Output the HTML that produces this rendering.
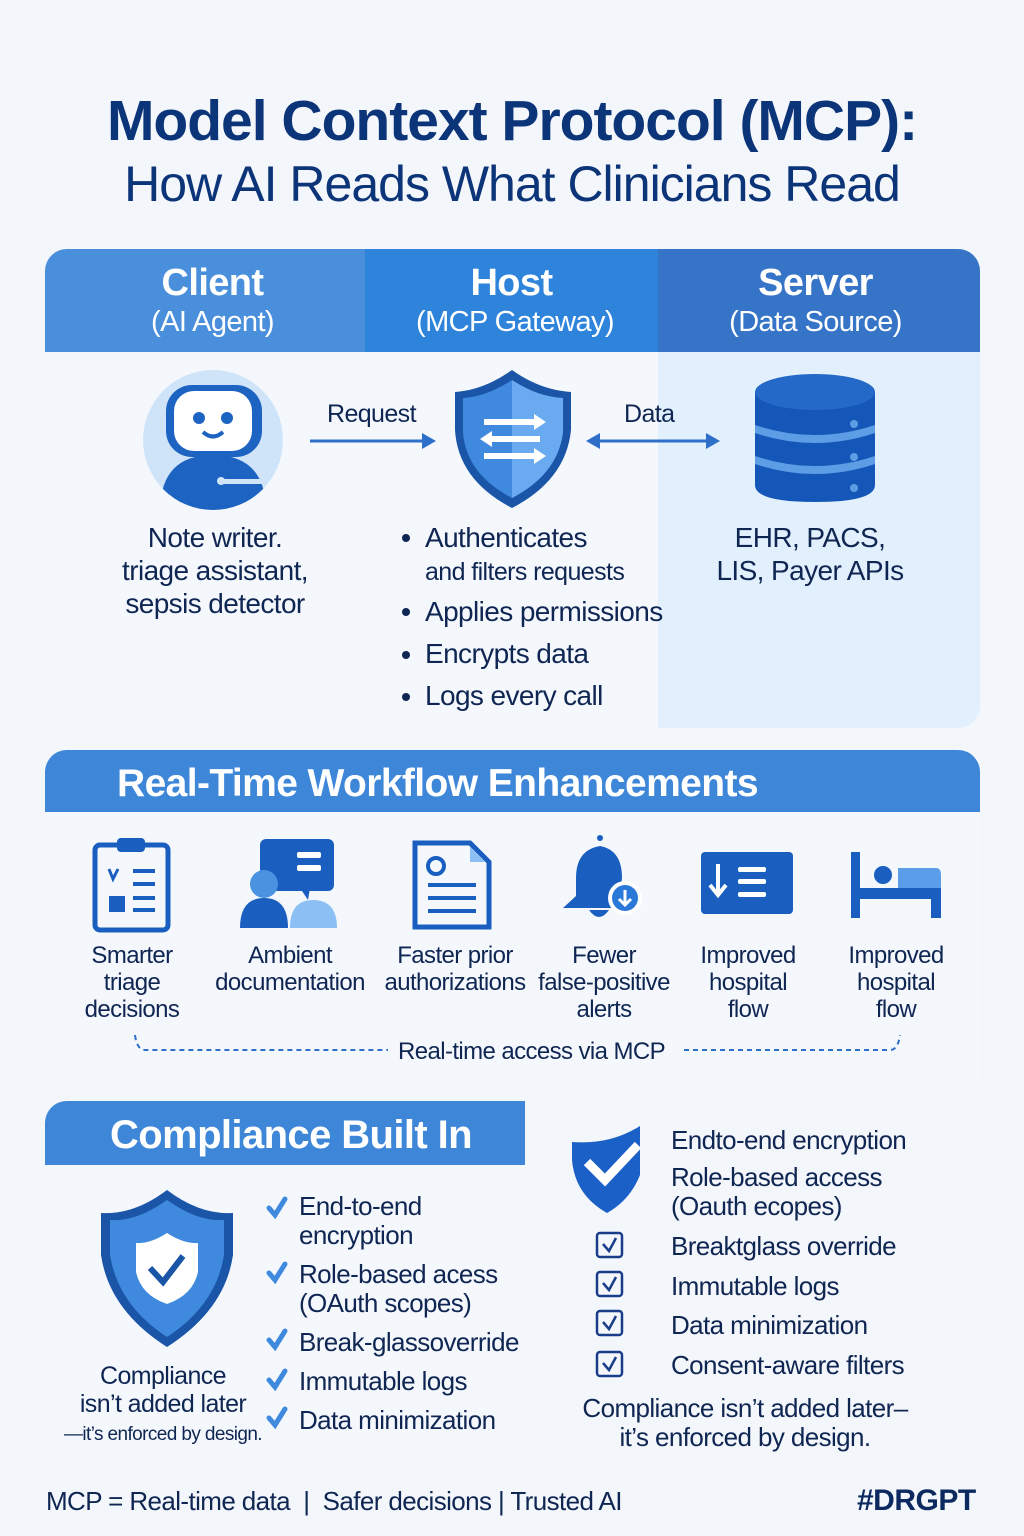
<!DOCTYPE html>
<html><head><meta charset="utf-8">
<style>
*{margin:0;padding:0;box-sizing:border-box}
body{width:1024px;height:1536px;background:#f3f6fa;font-family:"Liberation Sans",sans-serif;color:#0f2552;position:relative;overflow:hidden}
.a{position:absolute}
.c{text-align:center}
.t{letter-spacing:-0.6px}
.w{color:#fff}
</style></head><body>
<div class="a c" style="left:0;top:88px;width:1024px;font-size:57px;font-weight:bold;color:#0c3479;letter-spacing:-1px">Model Context Protocol (MCP):</div>
<div class="a c" style="left:0;top:155px;width:1024px;font-size:50px;color:#0c3479;letter-spacing:-1px">How AI Reads What Clinicians Read</div>

<div class="a" style="left:45px;top:249px;width:935px;height:479px;border-radius:22px;overflow:hidden;background:#f4f8fd">
  <div class="a" style="left:0;top:0;width:320px;height:103px;background:#4a8fdb"></div>
  <div class="a" style="left:320px;top:0;width:293px;height:103px;background:#2e83da"></div>
  <div class="a" style="left:613px;top:0;width:322px;height:103px;background:#3574c6"></div>
  <div class="a" style="left:613px;top:103px;width:322px;height:376px;background:#e2f0fd"></div>
</div>
<div class="a c w t" style="left:45px;top:262px;width:335px;font-size:38px;font-weight:bold">Client</div>
<div class="a c w t" style="left:45px;top:306px;width:335px;font-size:29px">(AI Agent)</div>
<div class="a c w t" style="left:365px;top:262px;width:293px;font-size:38px;font-weight:bold">Host</div>
<div class="a c w t" style="left:365px;top:306px;width:300px;font-size:29px">(MCP Gateway)</div>
<div class="a c w t" style="left:658px;top:262px;width:315px;font-size:38px;font-weight:bold">Server</div>
<div class="a c w t" style="left:658px;top:306px;width:315px;font-size:29px">(Data Source)</div>

<svg class="a" style="left:0;top:0" width="1024" height="1536">
 <circle cx="213" cy="440" r="70" fill="#cfe4f8"/>
 <clipPath id="cc"><circle cx="213" cy="440" r="70"/></clipPath>
 <g clip-path="url(#cc)">
  <path d="M160 512 Q160 455 213 455 Q266 455 266 512Z" fill="#1d63c2"/>
  <rect x="166" y="385" width="96" height="72" rx="26" fill="#1d63c2"/>
  <rect x="174" y="391" width="78" height="60" rx="20" fill="#fff"/>
  <circle cx="199" cy="418" r="6" fill="#1d63c2"/><circle cx="227" cy="418" r="6" fill="#1d63c2"/>
  <path d="M203 432 Q213 441 223 432" stroke="#1d63c2" stroke-width="4" fill="none"/>
  <rect x="220" y="479" width="42" height="5" fill="#cfe4f8"/><circle cx="221" cy="481" r="4" fill="#cfe4f8"/>
 </g>
 <line x1="310" y1="441" x2="428" y2="441" stroke="#2e6fca" stroke-width="3"/>
 <path d="M422 433 L436 441 L422 449Z" fill="#2e6fca"/>
 <line x1="596" y1="441" x2="712" y2="441" stroke="#2e6fca" stroke-width="3"/>
 <path d="M600 433 L586 441 L600 449Z" fill="#2e6fca"/>
 <path d="M706 433 L720 441 L706 449Z" fill="#2e6fca"/>
 <path d="M512 370 Q540 390 571 392 L571 430 Q566 480 512 508 Q458 480 455 430 L455 392 Q484 390 512 370Z" fill="#1a55a8"/>
 <path d="M512 380 Q538 397 563 398 L563 432 Q558 474 512 498 Q466 474 463 432 L463 398 Q486 397 512 380Z" fill="#3f8ade"/>
 <path d="M512 380 Q538 397 563 398 L563 432 Q558 474 512 498Z" fill="#6aaaf0"/>
 <g stroke="#fff" stroke-width="6" fill="none"><line x1="484" y1="422" x2="536" y2="422"/><line x1="490" y1="439" x2="540" y2="439"/><line x1="484" y1="456" x2="536" y2="456"/></g>
 <path d="M534 414 L546 422 L534 430Z M492 431 L480 439 L492 447Z M534 448 L546 456 L534 464Z" fill="#fff"/>
 <path d="M755 392 L755 485 Q755 502 815 502 Q875 502 875 485 L875 392Z" fill="#1557b8"/>
 <ellipse cx="815" cy="392" rx="60" ry="18" fill="#2468c8"/>
 <path d="M755 425 Q815 445 875 425 L875 433 Q815 453 755 433Z" fill="#5d9de6"/>
 <path d="M755 456 Q815 476 875 456 L875 464 Q815 484 755 464Z" fill="#5d9de6"/>
 <circle cx="854" cy="424" r="4" fill="#5d9de6"/><circle cx="854" cy="457" r="4" fill="#5d9de6"/><circle cx="854" cy="488" r="4" fill="#5d9de6"/>
 <g fill="#0f2552"><circle cx="406" cy="538" r="4"/><circle cx="406" cy="612" r="4"/><circle cx="406" cy="655" r="4"/><circle cx="406" cy="697" r="4"/></g>
</svg>
<div class="a t" style="left:327px;top:400px;font-size:25px">Request</div>
<div class="a t" style="left:624px;top:400px;font-size:25px">Data</div>
<div class="a c t" style="left:80px;top:521px;width:270px;font-size:28px;line-height:33px">Note writer.<br>triage assistant,<br>sepsis detector</div>
<div class="a t" style="left:425px;top:521px;font-size:28px;line-height:33px">Authenticates<br><span style="font-size:25px">and filters requests</span></div>
<div class="a t" style="left:425px;top:596px;font-size:28px">Applies permissions</div>
<div class="a t" style="left:425px;top:638px;font-size:28px">Encrypts data</div>
<div class="a t" style="left:425px;top:680px;font-size:28px">Logs every call</div>
<div class="a c t" style="left:680px;top:521px;width:260px;font-size:28px;line-height:33px">EHR, PACS,<br>LIS, Payer APIs</div>

<div class="a" style="left:45px;top:750px;width:935px;height:332px;border-radius:22px 22px 0 0;background:#f4f8fd"></div>
<div class="a" style="left:45px;top:750px;width:935px;height:62px;border-radius:22px 22px 0 0;background:#3d86d8"></div>
<div class="a w" style="left:117px;top:762px;font-size:39px;font-weight:bold;letter-spacing:-0.6px">Real-Time Workflow Enhancements</div>
<svg class="a" style="left:0;top:0" width="1024" height="1536">
 <g fill="#1a5fc0">
  <rect x="95" y="845" width="73" height="85" rx="5" fill="none" stroke="#1a5fc0" stroke-width="5"/>
  <rect x="117" y="838" width="28" height="14" rx="4"/>
  <path d="M109 869 L113 879 L118 869" stroke="#1a5fc0" stroke-width="3" fill="none"/>
  <rect x="133" y="869" width="22" height="4"/><rect x="133" y="882" width="22" height="4"/>
  <rect x="109" y="896" width="16" height="16"/><rect x="133" y="896" width="22" height="4"/><rect x="133" y="908" width="22" height="4"/>
  <rect x="260" y="839" width="74" height="52" rx="6"/><path d="M300 888 L308 900 L310 888Z"/>
  <rect x="297" y="852" width="24" height="6" fill="#fff" rx="2"/><rect x="297" y="865" width="24" height="6" fill="#fff" rx="2"/>
  <circle cx="264" cy="884" r="14" fill="#4b92e0"/>
  <path d="M240 928 Q240 898 264 898 Q288 898 288 928Z"/>
  <path d="M290 928 Q290 900 313 900 Q337 900 337 928Z" fill="#8cc0f5"/>
  <path d="M415 843 L470 843 L489 862 L489 927 L415 927Z" fill="none" stroke="#1a5fc0" stroke-width="5"/>
  <path d="M470 847 L470 862 L485 862Z" fill="#8cc0f5"/>
  <circle cx="436" cy="866" r="8" fill="none" stroke="#1a5fc0" stroke-width="4"/>
  <rect x="428" y="883" width="48" height="4"/><rect x="428" y="896" width="48" height="4"/><rect x="428" y="909" width="48" height="4"/>
  <path d="M600 838 L600 846 Q576 850 576 878 L576 896 L563 908 L630 908 L620 896 L622 878 Q622 850 600 846Z"/>
  <circle cx="600" cy="838" r="3"/>
  <path d="M589 910 Q599 924 609 910Z"/>
  <circle cx="625" cy="898" r="17" fill="#fff"/><circle cx="625" cy="898" r="13" fill="#2a78d8"/>
  <path d="M625 890 L625 904 M619 899 L625 905 L631 899" stroke="#fff" stroke-width="3" fill="none"/>
  <rect x="701" y="852" width="92" height="62" rx="4"/>
  <path d="M718 864 L718 894 M710 885 L718 895 L726 885" stroke="#fff" stroke-width="4" fill="none"/>
  <rect x="738" y="867" width="28" height="5" fill="#fff" rx="2"/><rect x="738" y="879" width="28" height="5" fill="#fff" rx="2"/><rect x="738" y="892" width="28" height="5" fill="#fff" rx="2"/>
  <rect x="851" y="852" width="9" height="66"/><rect x="851" y="888" width="90" height="11"/><rect x="931" y="888" width="10" height="30"/>
  <circle cx="883" cy="875" r="9"/><path d="M898 868 L936 868 Q941 868 941 875 L941 888 L898 888Z" fill="#5b9de8"/>
 </g>
 <path d="M135 1035 Q137 1050 145 1050 L388 1050" stroke="#2e6fca" stroke-width="2" stroke-dasharray="5 4" fill="none"/>
 <path d="M684 1050 L890 1050 Q898 1050 900 1035" stroke="#2e6fca" stroke-width="2" stroke-dasharray="5 4" fill="none"/>
</svg>
<div class="a c t" style="left:62px;top:942px;width:140px;font-size:24px;line-height:27px">Smarter<br>triage<br>decisions</div>
<div class="a c t" style="left:205px;top:942px;width:170px;font-size:24px;line-height:27px">Ambient<br>documentation</div>
<div class="a c t" style="left:377px;top:942px;width:156px;font-size:24px;line-height:27px">Faster prior<br>authorizations</div>
<div class="a c t" style="left:532px;top:942px;width:144px;font-size:24px;line-height:27px">Fewer<br>false-positive<br>alerts</div>
<div class="a c t" style="left:680px;top:942px;width:136px;font-size:24px;line-height:27px">Improved<br>hospital<br>flow</div>
<div class="a c t" style="left:828px;top:942px;width:136px;font-size:24px;line-height:27px">Improved<br>hospital<br>flow</div>
<div class="a t" style="left:398px;top:1038px;font-size:24px">Real-time access via MCP</div>

<div class="a" style="left:45px;top:1101px;width:480px;height:364px;border-radius:22px 0 0 0;background:#f4f8fd"></div>
<div class="a" style="left:45px;top:1101px;width:480px;height:64px;border-radius:22px 0 0 0;background:#3d86d8"></div>
<div class="a w" style="left:110px;top:1113px;font-size:40px;font-weight:bold;letter-spacing:-0.6px">Compliance Built In</div>
<svg class="a" style="left:0;top:0" width="1024" height="1536">
 <path d="M167 1190 Q200 1215 233 1213 L233 1255 Q225 1310 167 1347 Q109 1310 101 1255 L101 1213 Q134 1215 167 1190Z" fill="#1a55a8"/>
 <path d="M167 1200 Q198 1222 224 1220 L224 1255 Q216 1305 167 1337 Q118 1305 110 1255 L110 1220 Q136 1222 167 1200Z" fill="#3f8ade"/>
 <path d="M167 1233 Q184 1244 198 1243 L198 1272 Q193 1295 167 1304 Q141 1295 136 1272 L136 1243 Q150 1244 167 1233Z" fill="#fff"/>
 <path d="M150 1268 L163 1282 L183 1256" stroke="#1a55a8" stroke-width="6" fill="none"/>
 <g stroke="#3f8ade" stroke-width="5" fill="none" stroke-linecap="round">
  <path d="M269 1208 L275 1215 L285 1199"/>
  <path d="M269 1273 L275 1280 L285 1264"/>
  <path d="M269 1340 L275 1347 L285 1331"/>
  <path d="M269 1380 L275 1387 L285 1371"/>
  <path d="M269 1418 L275 1425 L285 1409"/>
 </g>
 <path d="M640 1126 L640 1175 Q630 1200 607 1213 Q575 1195 572 1160 L572 1142 Q610 1145 640 1126Z" fill="#1a60c6"/>
 <path d="M587 1162 L605 1180 L638 1145" stroke="#fff" stroke-width="9" fill="none"/>
 <g stroke="#1a3d8a" stroke-width="2.5" fill="none">
  <rect x="597" y="1233" width="25" height="24" rx="3"/><path d="M603 1244 L609 1251 L616 1238"/>
  <rect x="597" y="1272" width="25" height="24" rx="3"/><path d="M603 1283 L609 1290 L616 1277"/>
  <rect x="597" y="1311" width="25" height="24" rx="3"/><path d="M603 1322 L609 1329 L616 1316"/>
  <rect x="597" y="1352" width="25" height="24" rx="3"/><path d="M603 1363 L609 1370 L616 1357"/>
 </g>
</svg>
<div class="a c t" style="left:52px;top:1362px;width:222px;font-size:25px;line-height:28px">Compliance<br>isn’t added later<br><span style="font-size:19px">—it’s enforced by design.</span></div>
<div class="a t" style="left:299px;top:1192px;font-size:26px;line-height:29px">End-to-end<br>encryption</div>
<div class="a t" style="left:299px;top:1260px;font-size:26px;line-height:29px">Role-based acess<br>(OAuth scopes)</div>
<div class="a t" style="left:299px;top:1327px;font-size:26px">Break-glassoverride</div>
<div class="a t" style="left:299px;top:1366px;font-size:26px">Immutable logs</div>
<div class="a t" style="left:299px;top:1405px;font-size:26px">Data minimization</div>
<div class="a t" style="left:671px;top:1125px;font-size:26px">Endto-end encryption</div>
<div class="a t" style="left:671px;top:1163px;font-size:26px;line-height:29px">Role-based access<br>(Oauth ecopes)</div>
<div class="a t" style="left:671px;top:1231px;font-size:26px">Breaktglass override</div>
<div class="a t" style="left:671px;top:1271px;font-size:26px">Immutable logs</div>
<div class="a t" style="left:671px;top:1310px;font-size:26px">Data minimization</div>
<div class="a t" style="left:671px;top:1350px;font-size:26px">Consent-aware filters</div>
<div class="a c t" style="left:560px;top:1394px;width:370px;font-size:26px;line-height:29px">Compliance isn’t added later–<br>it’s enforced by design.</div>

<div class="a t" style="left:46px;top:1486px;font-size:26px">MCP = Real-time data &nbsp;| &nbsp;Safer decisions | Trusted AI</div>
<div class="a" style="left:857px;top:1484px;font-size:30px;font-weight:bold;color:#0c2a60;letter-spacing:-0.5px">#DRGPT</div>
</body></html>
